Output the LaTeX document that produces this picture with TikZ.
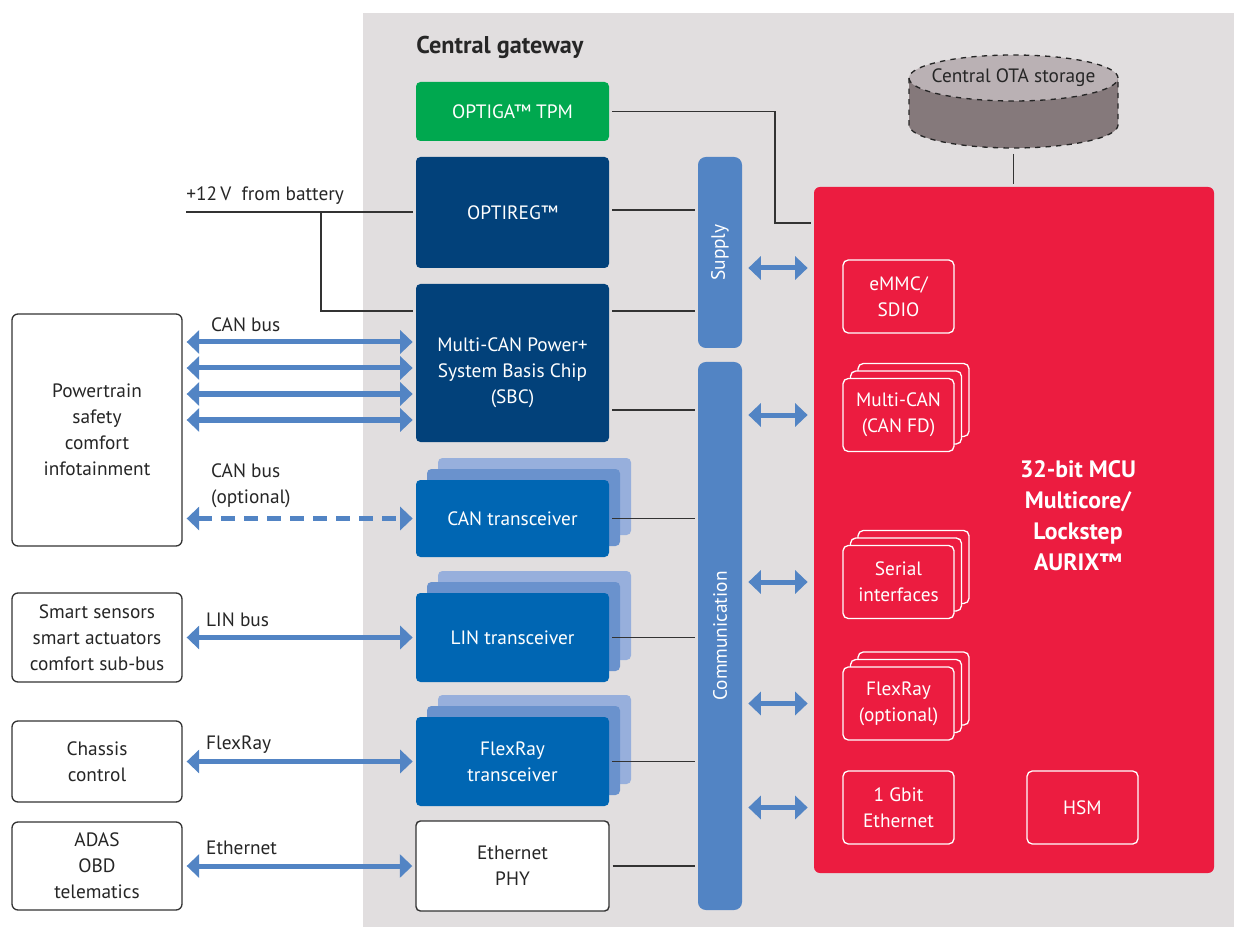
\documentclass[tikz,border=0pt]{standalone}
\usepackage{fontspec}
\setmainfont{PT Sans}
\usepackage{xcolor}
\usetikzlibrary{arrows.meta,positioning}
\definecolor{gatewayGray}{HTML}{E1DEDF}
\definecolor{tpmGreen}{HTML}{00A84F}
\definecolor{powerNavy}{HTML}{02417A}
\definecolor{trxBlue}{HTML}{0066B3}
\definecolor{trxMidBlue}{HTML}{6A92CD}
\definecolor{trxBackBlue}{HTML}{97AFDC}
\definecolor{barBlue}{HTML}{5284C4}
\definecolor{mcuRed}{HTML}{EC1C40}
\definecolor{otaTop}{HTML}{BAB1B4}
\definecolor{otaSide}{HTML}{85797B}
\definecolor{lineDark}{HTML}{333333}
\definecolor{textDark}{HTML}{262626}

\begin{document}
\begin{tikzpicture}[
  font=\fontsize{11}{14.7}\selectfont,
  block/.style={
    rounded corners=2.5pt,
    align=center,
    inner sep=2pt,
    minimum width=3.86cm,
    text=white
  },
  tpm/.style={block, fill=tpmGreen},
  power/.style={block, fill=powerNavy},
  trx/.style={block, fill=trxBlue},
  trx mid/.style={block, fill=trxMidBlue},
  trx back/.style={block, fill=trxBackBlue},
  phy/.style={block, fill=white, draw=lineDark, line width=0.8pt, text=textDark},
  ecu/.style={
    draw=lineDark,
    line width=0.75pt,
    rounded corners=3.4pt,
    fill=white,
    align=center,
    minimum width=3.4cm,
    text=textDark
  },
  bar/.style={fill=barBlue, rounded corners=4.5pt, minimum width=0.88cm},
  bar text/.style={rotate=90, text=white},
  mcu/.style={fill=mcuRed, rounded corners=3.4pt, minimum width=8cm, minimum height=13.72cm},
  periph/.style={
    draw=white,
    line width=0.75pt,
    fill=mcuRed,
    rounded corners=3pt,
    align=center,
    text=white,
    minimum width=2.22cm,
    minimum height=1.46cm
  },
  bus/.style={
    {Triangle[length=0.25cm,width=0.46cm]}-{Triangle[length=0.25cm,width=0.46cm]},
    draw=barBlue,
    line width=0.1cm
  },
  bus label/.style={anchor=west, text=textDark, align=left},
  conn/.style={draw=lineDark, line width=0.75pt, shorten <=0.06cm, shorten >=0.06cm}
]
\useasboundingbox (0,0) rectangle (24.68,-18.54);
\fill[white] (0,0) rectangle (24.68,-18.54);

% Gateway area
\fill[gatewayGray] (7.26,-0.26) rectangle (24.68,-18.54);
\node[anchor=west, inner sep=0pt, font=\fontsize{13.8}{16}\selectfont\bfseries, text=textDark] (gwTitle) at (8.32,-0.94) {Central gateway};

% Infineon devices in the gateway
\node[tpm, minimum height=1.18cm] (optiga) at (10.25,-2.23) {OPTIGA™ TPM};
\node[power, minimum height=2.22cm] (optireg) at (10.25,-4.25) {OPTIREG™};
\node[power, minimum height=3.16cm,
  label={[text=white, align=center, yshift=-0.19cm]center:Multi-CAN Power+\\System Basis Chip\\(SBC)}] (sbc) at (10.25,-7.26) {};

\node[trx back, minimum height=1.54cm] (canTrxC) at (10.69,-9.93) {};
\node[trx mid, minimum height=1.54cm] (canTrxB) at (10.47,-10.15) {};
\node[trx, minimum height=1.54cm] (canTrx) at (10.25,-10.37) {CAN transceiver};

\node[trx back, minimum height=1.78cm] (linTrxC) at (10.69,-12.31) {};
\node[trx mid, minimum height=1.78cm] (linTrxB) at (10.47,-12.53) {};
\node[trx, minimum height=1.78cm] (linTrx) at (10.25,-12.75) {LIN transceiver};

\node[trx back, minimum height=1.78cm] (frTrxC) at (10.69,-14.79) {};
\node[trx mid, minimum height=1.78cm] (frTrxB) at (10.47,-15.01) {};
\node[trx, minimum height=1.78cm] (frTrx) at (10.25,-15.23) {FlexRay\\transceiver};

\node[phy, minimum height=1.8cm] (phy) at (10.25,-17.32) {Ethernet\\PHY};

% Supply and communication bars
\node[bar, minimum height=3.82cm, label={[bar text]center:Supply}] (supply) at (14.4,-5.05) {};
\node[bar, minimum height=10.96cm, label={[bar text]center:Communication}] (comm) at (14.4,-12.72) {};

% Microcontroller
\node[mcu] (mcu) at (20.28,-10.6) {};
\node[align=center, text=white, font=\fontsize{13.5}{17.6}\selectfont\bfseries] (mcuLabel) at (21.56,-10.32)
  {32-bit MCU\\Multicore/\\Lockstep\\AURIX™};

\node[periph] (emmc) at (17.97,-5.93) {eMMC/\\SDIO};
\node[periph] (mcanC) at (18.27,-8.0) {};
\node[periph] (mcanB) at (18.12,-8.15) {};
\node[periph] (mcan) at (17.97,-8.3) {Multi-CAN\\(CAN FD)};
\node[periph] (serialC) at (18.27,-11.34) {};
\node[periph] (serialB) at (18.12,-11.49) {};
\node[periph] (serial) at (17.97,-11.64) {Serial\\interfaces};
\node[periph] (flexC) at (18.27,-13.77) {};
\node[periph] (flexB) at (18.12,-13.92) {};
\node[periph] (flex) at (17.97,-14.07) {FlexRay\\(optional)};
\node[periph] (gbit) at (17.97,-16.15) {1 Gbit\\Ethernet};
\node[periph] (hsm) at (21.65,-16.15) {HSM};

% OTA storage
\fill[otaSide] (18.18,-1.56) -- (18.18,-2.5) arc[start angle=180, end angle=360, x radius=2.09, y radius=0.46] -- (22.36,-1.56) -- cycle;
\fill[otaTop] (20.27,-1.56) ellipse[x radius=2.09, y radius=0.46];
\draw[dashed, line width=0.75pt, textDark] (20.27,-1.56) ellipse[x radius=2.09, y radius=0.46];
\draw[dashed, line width=0.75pt, textDark] (18.18,-1.56) -- (18.18,-2.5) arc[start angle=180, end angle=360, x radius=2.09, y radius=0.46] -- (22.36,-1.56);
\node[text=textDark] (ota) at (20.27,-1.56) {Central OTA storage};
\coordinate (otaBase) at (20.27,-3.02);
\draw[conn] (otaBase) -- (mcu.north -| otaBase);

% Vehicle domains
\node[ecu, minimum height=4.64cm] (ptrain) at (1.94,-8.6) {Powertrain\\safety\\comfort\\infotainment};
\node[ecu, minimum height=1.78cm] (smart) at (1.94,-12.75) {Smart sensors\\smart actuators\\comfort sub-bus};
\node[ecu, minimum height=1.62cm] (chassis) at (1.94,-15.23) {Chassis\\control};
\node[ecu, minimum height=1.76cm] (adas) at (1.94,-17.32) {ADAS\\OBD\\telematics};

% Battery feed
\node[anchor=base west, text=textDark, inner sep=0pt] (battery) at (3.72,-4.02) {+12\,V\ \ from battery};
\coordinate (batt) at (3.72,-4.24);
\coordinate (battSplit) at (6.42,-4.24);
\coordinate (sbcSupply) at (6.42,-6.22);
\draw[conn, shorten <=0pt] (batt) -- (optireg.west |- batt);
\draw[conn, shorten <=0pt] (battSplit) |- (sbc.west |- sbcSupply);

% Bus connections to the domains
\foreach \y in {6.84,7.36,7.88,8.4}
  \draw[bus, shorten <=0.08cm, shorten >=0.06cm] (ptrain.east |- 0,-\y) -- (sbc.west |- 0,-\y);
\draw[bus, dash pattern=on 0.28cm off 0.18cm, shorten <=0.08cm, shorten >=0.06cm] (ptrain.east |- canTrx) -- (canTrx.west);
\draw[bus, shorten <=0.08cm, shorten >=0.06cm] (smart.east) -- (linTrx.west);
\draw[bus, shorten <=0.08cm, shorten >=0.06cm] (chassis.east) -- (frTrx.west);
\draw[bus, shorten <=0.08cm, shorten >=0.06cm] (adas.east) -- (phy.west);

\node[bus label] (canLabel) at (4.1,-6.5) {CAN bus};
\node[bus label] (canOptLabel) at (4.1,-9.71) {CAN bus\\(optional)};
\node[bus label] (linLabel) at (4.0,-12.4) {LIN bus};
\node[bus label] (frLabel) at (4.0,-14.9) {FlexRay};
\node[bus label] (ethLabel) at (4.0,-16.96) {Ethernet};

% Device links to the bars
\coordinate (tpmBend) at (15.5,-4.46);
\coordinate (sbcPower) at (0,-6.22);
\coordinate (sbcComm) at (0,-8.2);
\draw[conn] (optiga.east) -| (tpmBend) -- (mcu.west |- tpmBend);
\draw[conn] (optireg.east |- 0,-4.2) -- (supply.west |- 0,-4.2);
\draw[conn] (sbc.east |- sbcPower) -- (supply.west |- sbcPower);
\draw[conn] (sbc.east |- sbcComm) -- (comm.west |- sbcComm);
\draw[conn] (canTrx.east) -- (comm.west |- canTrx);
\draw[conn] (linTrx.east) -- (comm.west |- linTrx);
\draw[conn] (frTrx.east) -- (comm.west |- frTrx);
\draw[conn] (phy.east) -- (comm.west |- phy);

% Bar to MCU links
\coordinate (supplyPort) at (0,-5.36);
\draw[bus, shorten <=0.12cm, shorten >=0.12cm] (supply.east |- supplyPort) -- (mcu.west |- supplyPort);
\foreach \p in {mcan,serial,flex,gbit}
  \draw[bus, shorten <=0.12cm, shorten >=0.12cm] (comm.east |- \p) -- (mcu.west |- \p);

\end{tikzpicture}
\end{document}
